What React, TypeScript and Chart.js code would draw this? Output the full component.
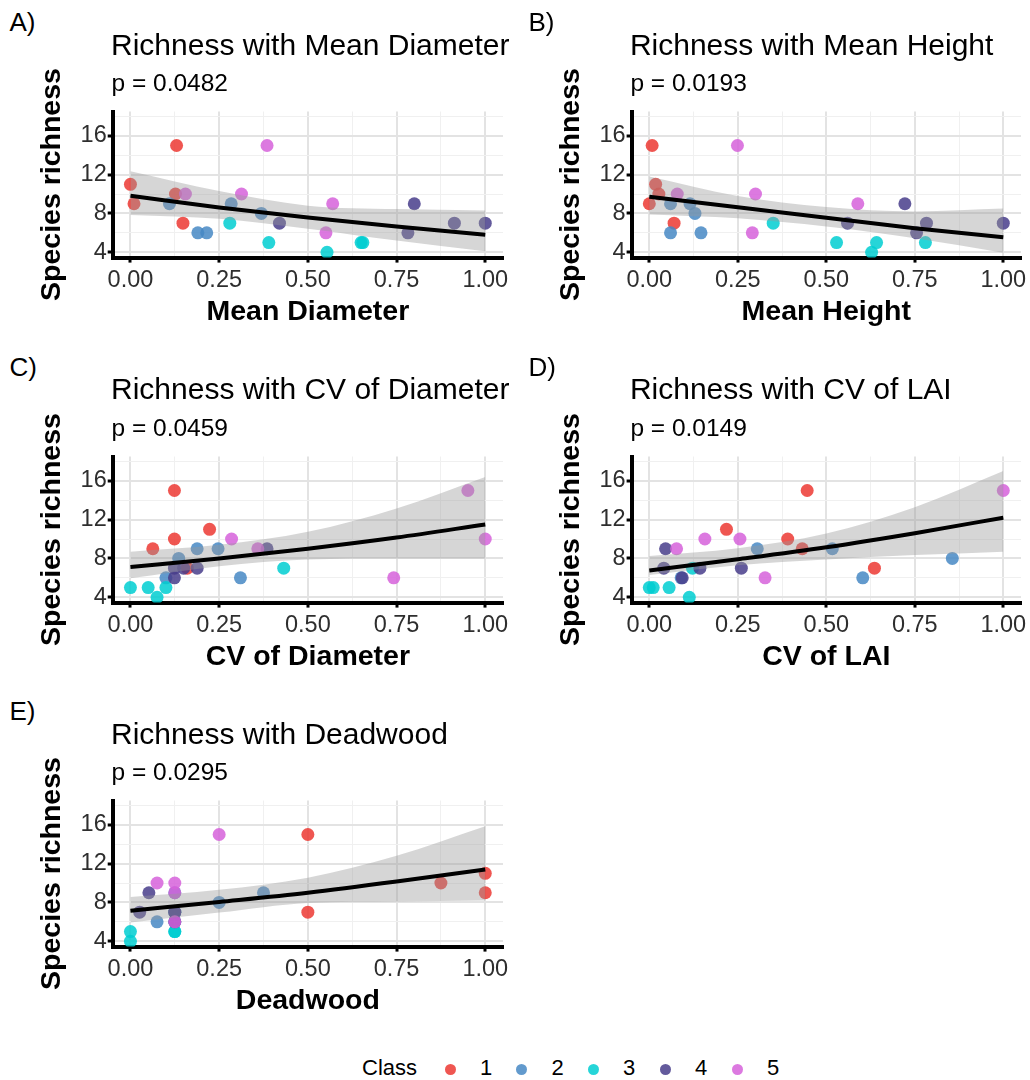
import React, { useEffect, useRef } from "react";
import { Chart, registerables } from "chart.js";

Chart.register(...registerables);

// ---------------- data ----------------
const classLabels = ["1", "2", "3", "4", "5"];
const classColors = [
  "rgba(236,56,50,0.85)",
  "rgba(70,136,196,0.85)",
  "rgba(0,206,209,0.85)",
  "rgba(72,61,139,0.85)",
  "rgba(214,98,218,0.85)",
];

const panelLetters = ["A)", "B)", "C)", "D)", "E)"];
const panelTitles = [
  "Richness with Mean Diameter",
  "Richness with Mean Height",
  "Richness with CV of Diameter",
  "Richness with CV of LAI",
  "Richness with Deadwood",
];
const pValueLabels = ["p = 0.0482", "p = 0.0193", "p = 0.0459", "p = 0.0149", "p = 0.0295"];
const xAxisTitles = ["Mean Diameter", "Mean Height", "CV of Diameter", "CV of LAI", "Deadwood"];
const yAxisTitle = "Species richness";

const xMajorTicks = [0, 0.25, 0.5, 0.75, 1];
const xMinorTicks = [0.125, 0.375, 0.625, 0.875];
const yMajorTicks = [4, 8, 12, 16];
const yMinorTicks = [6, 10, 14, 18];
const xLimits = [-0.05, 1.05];
const yLimits = [3.45, 18.5];

// points per class (class 1..5)
const meanDiameterX = [
  [0, 0.01, 0.13, 0.127, 0.148],
  [0.11, 0.19, 0.215, 0.284, 0.369],
  [0.28, 0.39, 0.554, 0.65, 0.655],
  [0.42, 0.782, 0.8, 0.913, 1.0],
  [0.155, 0.313, 0.385, 0.57, 0.551],
];
const meanDiameterY = [
  [11, 9, 15, 10, 7],
  [9, 6, 6, 9, 8],
  [7, 5, 4, 5, 5],
  [7, 6, 9, 7, 7],
  [10, 10, 15, 9, 6],
];

const meanHeightX = [
  [0.008, 0.018, 0.027, 0.0, 0.07],
  [0.06, 0.115, 0.129, 0.06, 0.146],
  [0.35, 0.529, 0.628, 0.642, 0.78],
  [0.56, 0.722, 0.755, 0.783, 1.0],
  [0.249, 0.079, 0.3, 0.291, 0.589],
];
const meanHeightY = [
  [15, 11, 10, 9, 7],
  [9, 9, 8, 6, 6],
  [7, 5, 4, 5, 5],
  [7, 9, 6, 7, 7],
  [15, 10, 10, 6, 9],
];

const cvDiameterX = [
  [0.124, 0.124, 0.223, 0.063, 0.16],
  [0.136, 0.188, 0.247, 0.1, 0.31],
  [0.0, 0.05, 0.075, 0.1, 0.432],
  [0.124, 0.124, 0.15, 0.188, 0.385],
  [0.285, 0.359, 0.742, 0.951, 1.0],
];
const cvDiameterY = [
  [15, 10, 11, 9, 7],
  [8, 9, 9, 6, 6],
  [5, 5, 4, 5, 7],
  [6, 7, 7, 7, 9],
  [10, 9, 6, 15, 10],
];

const cvLaiX = [
  [0.218, 0.391, 0.432, 0.446, 0.636],
  [0.305, 0.517, 0.603, 0.856, 0.09],
  [0.0, 0.011, 0.056, 0.113, 0.122],
  [0.046, 0.041, 0.093, 0.143, 0.26],
  [0.077, 0.157, 0.256, 0.327, 1.0],
];
const cvLaiY = [
  [11, 10, 9, 15, 7],
  [9, 9, 6, 8, 6],
  [5, 5, 5, 4, 7],
  [9, 7, 6, 7, 7],
  [9, 10, 10, 6, 15],
];

const deadwoodX = [
  [0.5, 0.5, 0.875, 1.0, 1.0],
  [0.075, 0.25, 0.375, 0.125, 0.125],
  [0, 0, 0.125, 0.125, 0.125],
  [0.026, 0.052, 0.125, 0.125, 0.125],
  [0.075, 0.125, 0.125, 0.25, 0.125],
];
const deadwoodY = [
  [15, 7, 10, 11, 9],
  [6, 8, 9, 6, 9],
  [5, 4, 5, 5, 7],
  [7, 9, 7, 7, 6],
  [10, 10, 9, 15, 6],
];

// fitted curve and confidence band, read at these x positions
const fitX = [0, 0.25, 0.5, 0.75, 1];
const meanDiameterFit = [9.82, 8.62, 7.57, 6.65, 5.8];
const meanDiameterUpper = [12.35, 10.3, 8.8, 8.45, 8.3];
const meanDiameterLower = [7.85, 7.45, 6.43, 5.2, 4.1];
const meanHeightFit = [9.72, 8.63, 7.55, 6.47, 5.55];
const meanHeightUpper = [11.8, 9.8, 8.65, 8.2, 8.5];
const meanHeightLower = [7.9, 7.5, 6.65, 5.45, 3.95];
const cvDiameterFit = [7.12, 8.0, 9.0, 10.15, 11.5];
const cvDiameterUpper = [8.7, 9.4, 10.75, 13.15, 16.4];
const cvDiameterLower = [5.95, 7.2, 7.9, 8.0, 8.0];
const cvLaiFit = [6.75, 7.91, 9.15, 10.6, 12.2];
const cvLaiUpper = [8.25, 9.05, 10.56, 13.28, 17.0];
const cvLaiLower = [6.3, 7.3, 7.9, 8.35, 8.7];
const deadwoodFit = [7.15, 8.05, 9.0, 10.15, 11.4];
const deadwoodUpper = [8.55, 9.3, 10.55, 12.8, 15.85];
const deadwoodLower = [5.92, 6.95, 7.95, 8.1, 8.2];

const panelXs = [meanDiameterX, meanHeightX, cvDiameterX, cvLaiX, deadwoodX];
const panelYs = [meanDiameterY, meanHeightY, cvDiameterY, cvLaiY, deadwoodY];
const panelFits = [meanDiameterFit, meanHeightFit, cvDiameterFit, cvLaiFit, deadwoodFit];
const panelUppers = [meanDiameterUpper, meanHeightUpper, cvDiameterUpper, cvLaiUpper, deadwoodUpper];
const panelLowers = [meanDiameterLower, meanHeightLower, cvDiameterLower, cvLaiLower, deadwoodLower];

// ---------------- layout / style ----------------
const FONT = "'Liberation Sans', Arial, Helvetica, sans-serif";
const TICK_COLOR = "#2e2e2e";
const COLS = [
  { left: 0, width: 515, chartLeft: 112.7, chartRight: 503 },
  { left: 519, width: 511, chartLeft: 631.6, chartRight: 1021 },
];
const ROW_OFFSETS = [0, 344.5, 689];
const CANVAS_TOP = 45;
const CANVAS_H = 293;
const CHART_TOP = 66.5;
const CHART_H = 146.1;
const TICK_SIZE = 23.5;
const AXIS_TITLE_SIZE = 28.5;
const LEGEND_DOT_X = [450, 521.5, 593, 665, 737];

const isIn = (arr: number[], v: number) => arr.some((a) => Math.abs(a - v) < 1e-9);
const toPts = (xs: number[], ys: number[]) => xs.map((x, i) => ({ x, y: ys[i] }));

const gridFor = (majors: number[], tickLength: number) => ({
  display: true,
  drawOnChartArea: true,
  drawTicks: true,
  tickLength,
  color: (ctx: any) => (ctx.tick && isIn(majors, ctx.tick.value) ? "#E3E3E3" : "#F0F0F0"),
  lineWidth: (ctx: any) => (ctx.tick && isIn(majors, ctx.tick.value) ? 2 : 1),
  tickColor: (ctx: any) => (ctx.tick && isIn(majors, ctx.tick.value) ? "#000" : "rgba(0,0,0,0)"),
  tickWidth: 3,
});

function Panel({ idx }: { idx: number }) {
  const ref = useRef<HTMLCanvasElement>(null);
  const col = COLS[idx % 2];
  const row = Math.floor(idx / 2);
  const top = ROW_OFFSETS[row] + CANVAS_TOP;

  useEffect(() => {
    if (!ref.current) return;
    const xTickValues = [...xMajorTicks, ...xMinorTicks].sort((a, b) => a - b);
    const yTickValues = [...yMajorTicks, ...yMinorTicks].sort((a, b) => a - b);
    const datasets: any[] = [
      {
        type: "line",
        label: "fit",
        data: toPts(fitX, panelFits[idx]),
        borderColor: "#000",
        borderWidth: 4,
        pointRadius: 0,
        fill: false,
        cubicInterpolationMode: "monotone",
        order: 0,
      },
      {
        type: "line",
        label: "upper",
        data: toPts(fitX, panelUppers[idx]),
        borderColor: "rgba(0,0,0,0)",
        borderWidth: 0,
        pointRadius: 0,
        backgroundColor: "rgba(153,153,153,0.4)",
        fill: "+1",
        cubicInterpolationMode: "monotone",
        order: 1,
      },
      {
        type: "line",
        label: "lower",
        data: toPts(fitX, panelLowers[idx]),
        borderColor: "rgba(0,0,0,0)",
        borderWidth: 0,
        pointRadius: 0,
        fill: false,
        cubicInterpolationMode: "monotone",
        order: 1,
      },
      ...classLabels.map((c, k) => ({
        type: "scatter",
        label: c,
        data: toPts(panelXs[idx][k], panelYs[idx][k]),
        backgroundColor: classColors[k],
        borderWidth: 0,
        pointRadius: 6.5,
        order: 6 - k,
      })),
    ];
    const chart = new Chart(ref.current, {
      type: "scatter",
      data: { datasets },
      options: {
        responsive: false,
        animation: false,
        events: [],
        layout: {
          padding: { top: CHART_TOP, right: col.width - (col.chartRight - col.left), bottom: 0, left: 0 },
        },
        plugins: { legend: { display: false }, tooltip: { enabled: false }, title: { display: false } },
        scales: {
          x: {
            type: "linear",
            min: xLimits[0],
            max: xLimits[1],
            afterBuildTicks: (s: any) => {
              s.ticks = xTickValues.map((v) => ({ value: v }));
            },
            afterFit: (s: any) => {
              s.height = CANVAS_H - CHART_TOP - CHART_H;
              s.paddingLeft = 0;
              s.paddingRight = 0;
            },
            ticks: {
              autoSkip: false,
              maxRotation: 0,
              minRotation: 0,
              padding: 3.5,
              color: TICK_COLOR,
              font: { family: FONT, size: TICK_SIZE },
              callback: (v: any) => (isIn(xMajorTicks, Number(v)) ? Number(v).toFixed(2) : ""),
            },
            grid: gridFor(xMajorTicks, 5),
            border: { display: true, color: "#000", width: 4 },
            title: {
              display: true,
              text: xAxisTitles[idx],
              color: "#000",
              font: { family: FONT, size: AXIS_TITLE_SIZE, weight: "bold" },
              padding: { top: 0, bottom: 9 },
            },
          },
          y: {
            type: "linear",
            min: yLimits[0],
            max: yLimits[1],
            afterBuildTicks: (s: any) => {
              s.ticks = yTickValues.map((v) => ({ value: v }));
            },
            afterFit: (s: any) => {
              s.width = col.chartLeft - col.left;
              s.paddingTop = 0;
              s.paddingBottom = 0;
            },
            ticks: {
              autoSkip: false,
              padding: 1,
              color: TICK_COLOR,
              font: { family: FONT, size: TICK_SIZE },
              callback: (v: any) => (isIn(yMajorTicks, Number(v)) ? String(v) : ""),
            },
            grid: gridFor(yMajorTicks, 5),
            border: { display: true, color: "#000", width: 4 },
            title: {
              display: true,
              text: yAxisTitle,
              color: "#000",
              font: { family: FONT, size: AXIS_TITLE_SIZE, weight: "bold" },
              padding: { top: col.chartLeft - col.left - 77.5, bottom: 0 },
            },
          },
        },
      } as any,
    } as any);
    return () => chart.destroy();
  }, [idx]);

  return (
    <canvas
      ref={ref}
      width={col.width}
      height={CANVAS_H}
      style={{ position: "absolute", left: col.left, top, width: col.width, height: CANVAS_H }}
    />
  );
}

function TextAt({ x, y, size, children, bold }: any) {
  return (
    <div
      style={{
        position: "absolute",
        left: x,
        top: y,
        fontFamily: FONT,
        fontSize: size,
        lineHeight: `${size}px`,
        fontWeight: bold ? "bold" : "normal",
        whiteSpace: "nowrap",
        color: "#000",
      }}
    >
      {children}
    </div>
  );
}

export default function App() {
  return (
    <div
      style={{
        position: "absolute",
        left: 0,
        top: 0,
        width: 1030,
        height: 1080,
        background: "#fff",
        overflow: "hidden",
      }}
    >
      {panelTitles.map((t, i) => {
        const col = COLS[i % 2];
        const off = ROW_OFFSETS[Math.floor(i / 2)];
        return (
          <React.Fragment key={i}>
            <Panel idx={i} />
            <TextAt x={col.left + 9.5} y={9 + off} size={26}>
              {panelLetters[i]}
            </TextAt>
            <TextAt x={col.chartLeft - 1.7} y={29.6 + off} size={30}>
              {t}
            </TextAt>
            <TextAt x={col.chartLeft - 1.2} y={71 + off} size={24.5}>
              {pValueLabels[i]}
            </TextAt>
          </React.Fragment>
        );
      })}
      <TextAt x={362} y={1057.4} size={22}>
        Class
      </TextAt>
      {classLabels.map((c, k) => (
        <React.Fragment key={c}>
          <div
            style={{
              position: "absolute",
              left: LEGEND_DOT_X[k] - 5.5,
              top: 1069 - 5.5,
              width: 11,
              height: 11,
              borderRadius: "50%",
              background: classColors[k],
            }}
          />
          <TextAt x={LEGEND_DOT_X[k] + 30} y={1057.4} size={22}>
            {c}
          </TextAt>
        </React.Fragment>
      ))}
    </div>
  );
}
